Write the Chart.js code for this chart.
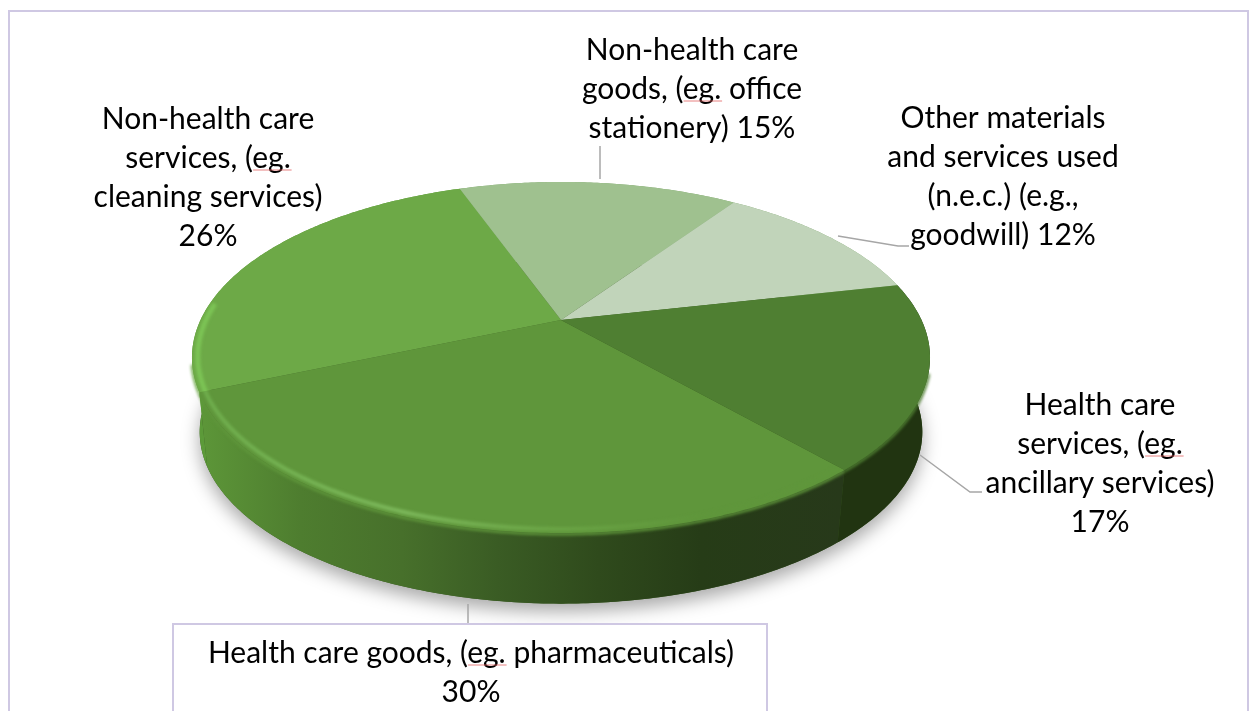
<!DOCTYPE html>
<html>
<head>
<meta charset="utf-8">
<title>Materials and services used</title>
<script src="https://cdn.jsdelivr.net/npm/chart.js@4/dist/chart.umd.min.js"></script>
<style>
  html, body { margin: 0; padding: 0; background: #fff; overflow: hidden; }
  canvas { display: block; }
</style>
</head>
<body>
<canvas id="pie" width="1258" height="711"></canvas>
<script>
const categories = [
  'Health care goods',
  'Non-health care services',
  'Non-health care goods',
  'Other materials and services used',
  'Health care services'
];
const shares = [30, 26, 15, 12, 17];

// one entry per slice, same order as categories
const labelLines = [
  ['Health care goods, (eg. pharmaceuticals)', '30%'],
  ['Non-health care', 'services, (eg.', 'cleaning services)', '26%'],
  ['Non-health care', 'goods, (eg. office', 'stationery) 15%'],
  ['Other materials', 'and services used', '(n.e.c.) (e.g.,', 'goodwill) 12%'],
  ['Health care', 'services, (eg.', 'ancillary services)', '17%']
];
const labelX = [471, 208, 692, 1003, 1100];
const labelY = [663, 129, 60, 128, 415];
const leaders = [
  [[468, 604], [468, 623]],
  [],
  [[600, 146], [600, 179]],
  [[838, 236], [898, 246], [909, 246]],
  [[920, 455], [970, 492], [982, 492]]
];

const topColors = ['#5F963B', '#6DA947', '#9FC18F', '#C1D4BA', '#4F7F32'];

// pie plane seen in perspective: apex at (cx, cy)
const cx = 561, cy = 320, spanX = 360.5, spanY = 167.5, tilt = -0.2137;
const baseScale = 0.98, baseDrop = 76;

function project(t, r, dy) {
  const X = r * Math.cos(t), Y = r * Math.sin(t);
  const w = 1 + tilt * Y;
  return [cx + spanX * X / w, cy + spanY * Y / w + dy];
}

function tracePoints(ctx, a, b, r, dy, first) {
  const steps = Math.max(2, Math.ceil(Math.abs(b - a) * 90));
  for (let i = 0; i <= steps; i++) {
    const p = project(a + (b - a) * i / steps, r, dy);
    if (i === 0 && first) ctx.moveTo(p[0], p[1]);
    else ctx.lineTo(p[0], p[1]);
  }
}

function wallFill(ctx, index) {
  if (index === 0) {
    const g = ctx.createLinearGradient(205, 0, 840, 0);
    g.addColorStop(0, '#5C9538');
    g.addColorStop(0.15, '#4E7D2F');
    g.addColorStop(0.31, '#47702B');
    g.addColorStop(0.46, '#3A5C24');
    g.addColorStop(0.62, '#2F4A1C');
    g.addColorStop(0.78, '#263C17');
    g.addColorStop(1, '#27391A');
    return g;
  }
  if (index === 1) return '#5C9A39';
  if (index === 4) return '#213411';
  return '#7FA66E';
}

// light band along the front edge, fading out towards the right
function rimStroke(ctx, index) {
  if (index === 0) {
    const g = ctx.createLinearGradient(205, 0, 700, 0);
    g.addColorStop(0, '#6FAE4D');
    g.addColorStop(0.4, '#7DB95C');
    g.addColorStop(0.7, '#6BA546');
    g.addColorStop(1, '#5F963B');
    return g;
  }
  if (index === 1) return '#7CC455';
  return null;
}

const pie3d = {
  id: 'pie3d',
  beforeDatasetsDraw(chart) {
    const ctx = chart.ctx;
    const arcs = chart.getDatasetMeta(0).data;

    // soft shadow under the disc
    ctx.save();
    ctx.shadowColor = 'rgba(0,0,0,0.34)';
    ctx.shadowBlur = 18;
    ctx.shadowOffsetY = 8;
    ctx.fillStyle = '#3a5a22';
    ctx.beginPath();
    tracePoints(ctx, 0, Math.PI * 2, baseScale, baseDrop, true);
    ctx.closePath();
    ctx.fill();
    ctx.restore();

    // side wall
    arcs.forEach((arc, i) => {
      ctx.fillStyle = wallFill(ctx, i);
      ctx.beginPath();
      tracePoints(ctx, arc.startAngle, arc.endAngle, 1, 0, true);
      tracePoints(ctx, arc.endAngle, arc.startAngle, baseScale, baseDrop, false);
      ctx.closePath();
      ctx.fill();
    });

    // soften the seam between wall and top face, only where the wall is visible
    arcs.forEach((arc, i) => {
      let a = arc.startAngle, b = arc.endAngle;
      if (b > Math.PI * 2) { a -= Math.PI * 2; b -= Math.PI * 2; }
      a = Math.max(a, 0.3);
      b = Math.min(b, Math.PI - 0.25);
      if (a >= b) return;
      ctx.save();
      ctx.filter = 'blur(1.5px)';
      ctx.strokeStyle = topColors[i];
      ctx.lineWidth = 3;
      ctx.beginPath();
      tracePoints(ctx, a, b, 1, 1, true);
      ctx.stroke();
      ctx.restore();
    });

    // top face with a bevel along the front edge
    arcs.forEach((arc, i) => {
      const apex = project(0, 0, 0);
      ctx.save();
      ctx.beginPath();
      ctx.moveTo(apex[0], apex[1]);
      tracePoints(ctx, arc.startAngle, arc.endAngle, 1, 0, false);
      ctx.closePath();
      ctx.fillStyle = topColors[i];
      ctx.fill();
      const rim = rimStroke(ctx, i);
      if (rim) {
        ctx.clip();
        ctx.filter = 'blur(1.5px)';
        ctx.strokeStyle = rim;
        ctx.lineWidth = i === 1 ? 5 : 4;
        ctx.beginPath();
        tracePoints(ctx, 0.3, Math.PI + 0.1, 0.985, 0, true);
        ctx.stroke();
      }
      ctx.restore();
    });
    return false;
  },
  afterDraw(chart) {
    const ctx = chart.ctx;

    // chart frame and the box round the first label
    ctx.strokeStyle = '#CFC8E3';
    ctx.lineWidth = 2;
    ctx.strokeRect(9, 11, 1239, 720);
    ctx.fillStyle = '#fff';
    ctx.fillRect(173, 624, 594, 100);
    ctx.strokeRect(173, 624, 594, 100);

    ctx.strokeStyle = '#A6A6A6';
    ctx.lineWidth = 1.5;
    leaders.forEach(pts => {
      if (!pts.length) return;
      ctx.beginPath();
      pts.forEach((p, i) => i ? ctx.lineTo(p[0], p[1]) : ctx.moveTo(p[0], p[1]));
      ctx.stroke();
    });

    ctx.font = '30px Lato';
    ctx.textAlign = 'left';
    ctx.textBaseline = 'alphabetic';
    labelLines.forEach((lines, i) => {
      lines.forEach((line, j) => {
        const w = ctx.measureText(line).width;
        const x = labelX[i] - w / 2, y = labelY[i] + j * 39;
        ctx.fillStyle = '#000';
        ctx.fillText(line, x, y);
        // spell-check underline below "eg."
        const at = line.indexOf('eg.');
        if (at >= 0) {
          const sx = x + ctx.measureText(line.slice(0, at)).width;
          ctx.strokeStyle = 'rgba(224,90,90,0.75)';
          ctx.lineWidth = 1;
          ctx.beginPath();
          ctx.moveTo(sx, y + 2);
          ctx.lineTo(sx + ctx.measureText('eg.').width, y + 2);
          ctx.stroke();
        }
      });
    });
  }
};

new Chart(document.getElementById('pie'), {
  type: 'pie',
  data: {
    labels: categories,
    datasets: [{ data: shares, backgroundColor: topColors, borderWidth: 0 }]
  },
  options: {
    responsive: false,
    animation: false,
    rotation: 138.7,
    plugins: { legend: { display: false }, tooltip: { enabled: false } }
  },
  plugins: [pie3d]
});
</script>
</body>
</html>
